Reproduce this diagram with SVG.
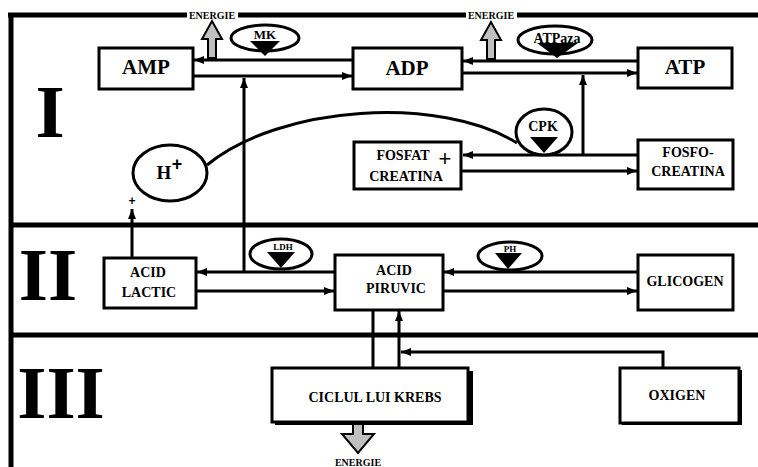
<svg xmlns="http://www.w3.org/2000/svg" width="758" height="467" viewBox="0 0 758 467">
<style>
.t{font-family:"Liberation Serif","Times New Roman",serif;font-weight:bold;fill:#000;text-anchor:middle}
.box{fill:#fff;stroke:#000;stroke-width:3}
.frame{stroke:#000;stroke-width:5;fill:none}
.ln{stroke:#000;stroke-width:3;fill:none}
.arr{stroke:#000;stroke-width:3;fill:none;marker-end:url(#ah)}
.enz{fill:#fff;stroke:#000;stroke-width:3}
.tri{fill:#000}
.gray{fill:#c0c0c0;stroke:#000;stroke-width:2}
</style>
<defs>
<marker id="ah" markerUnits="userSpaceOnUse" markerWidth="11" markerHeight="9" refX="10" refY="4" orient="auto">
<path d="M0,0 L10,4 L0,8 z" fill="#000"/>
</marker>
</defs>
<rect width="758" height="467" fill="#fff"/>
<g id="frame">
<line class="frame" x1="8" y1="15" x2="758" y2="15"/>
<line class="frame" x1="11" y1="13" x2="11" y2="467"/>
<line class="frame" x1="9" y1="225" x2="758" y2="225"/>
<line class="frame" x1="9" y1="335" x2="758" y2="335"/>
<text class="t" x="50" y="137" font-size="75">I</text>
<text class="t" x="48" y="300" font-size="75">II</text>
<text class="t" x="61" y="418" font-size="75">III</text>
</g>
<g id="connectors">
<line class="arr" x1="353" y1="60" x2="194" y2="60"/>
<line class="arr" x1="193" y1="76" x2="352" y2="76"/>
<line class="arr" x1="638" y1="61" x2="463" y2="61"/>
<line class="arr" x1="462" y1="73" x2="637" y2="73"/>
<line class="arr" x1="244" y1="272" x2="244" y2="78"/>
<line class="arr" x1="583" y1="155" x2="583" y2="75"/>
<line class="arr" x1="638" y1="155" x2="463" y2="155"/>
<line class="arr" x1="461" y1="171" x2="637" y2="171"/>
<path class="ln" d="M207,165 C280,105 440,95 517,143"/>
<line class="arr" x1="132" y1="258" x2="132" y2="209"/>
<line class="arr" x1="335" y1="272" x2="197" y2="272"/>
<line class="arr" x1="196" y1="291" x2="334" y2="291"/>
<line class="arr" x1="638" y1="272" x2="444" y2="272"/>
<line class="arr" x1="443" y1="291" x2="637" y2="291"/>
<line class="ln" x1="373" y1="310" x2="373" y2="368"/>
<line class="arr" x1="399" y1="368" x2="399" y2="311"/>
<polyline class="arr" points="663,368 663,352 401,352"/>
</g>
<g id="energie1">
<rect x="187" y="10" width="51" height="11" fill="#fff"/>
<text class="t" x="212" y="19" font-size="10">ENERGIE</text>
<path class="gray" d="M208,58 L208,39 L202,39 L212,21 L222,39 L216,39 L216,58 z"/>
</g>
<g id="energie2">
<rect x="466" y="10" width="51" height="11" fill="#fff"/>
<text class="t" x="491" y="19" font-size="10">ENERGIE</text>
<path class="gray" d="M487,59 L487,40 L481,40 L491,22 L501,40 L495,40 L495,59 z"/>
</g>
<g id="energie3">
<path class="gray" d="M353,424 L353,434 L342,434 L358,453 L374,434 L363,434 L363,424 z"/>
<text class="t" x="358" y="466" font-size="10">ENERGIE</text>
</g>
<g id="amp"><rect class="box" x="99" y="48" width="94" height="41"/><text class="t" x="146" y="74" font-size="21">AMP</text></g>
<g id="adp"><rect class="box" x="353" y="48" width="109" height="41"/><text class="t" x="407" y="75" font-size="21">ADP</text></g>
<g id="atp"><rect class="box" x="638" y="48" width="94" height="40"/><text class="t" x="685" y="74" font-size="21">ATP</text></g>
<g id="mk"><ellipse class="enz" cx="265" cy="38" rx="34" ry="13"/><text class="t" x="265" y="39" font-size="13">MK</text><polygon class="tri" points="250,41 280,41 265,56"/></g>
<g id="atpaza"><ellipse class="enz" cx="555" cy="40" rx="37" ry="14"/><text class="t" x="557" y="43" font-size="14">ATPaza</text><polygon class="tri" points="537,43 578,43 557,58"/></g>
<g id="hplus"><ellipse class="enz" cx="170" cy="173" rx="37" ry="28"/><text class="t" x="164" y="179" font-size="19">H</text><text x="177" y="170" font-size="18" font-family="Liberation Sans, Arial, sans-serif" font-weight="bold" text-anchor="middle">+</text><text x="132" y="205" font-size="12" font-family="Liberation Sans, Arial, sans-serif" font-weight="bold" text-anchor="middle">+</text></g>
<g id="cpk"><ellipse class="enz" cx="544" cy="132" rx="28" ry="23"/><text class="t" x="543" y="131" font-size="14">CPK</text><polygon class="tri" points="530,137 558,137 544,153"/></g>
<g id="fosfat"><rect class="box" x="354" y="142" width="107" height="47"/><text class="t" x="403" y="160" font-size="14">FOSFAT</text><text class="t" x="406" y="181" font-size="14">CREATINA</text><text x="445" y="166" font-size="22" font-family="Liberation Sans, Arial, sans-serif" text-anchor="middle">+</text></g>
<g id="fosfocreatina"><rect class="box" x="638" y="140" width="95" height="49"/><text class="t" x="688" y="157" font-size="14">FOSFO-</text><text class="t" x="688" y="176" font-size="14">CREATINA</text></g>
<g id="lactic"><rect class="box" x="104" y="258" width="92" height="50"/><text class="t" x="148" y="277" font-size="14">ACID</text><text class="t" x="149" y="297" font-size="14">LACTIC</text></g>
<g id="ldh"><ellipse class="enz" cx="281" cy="254" rx="31" ry="15"/><text class="t" x="283" y="250" font-size="9">LDH</text><polygon class="tri" points="267,252 295,252 281,268"/></g>
<g id="piruvic"><rect class="box" x="335" y="255" width="108" height="55"/><text class="t" x="394" y="275" font-size="14">ACID</text><text class="t" x="396" y="293" font-size="14">PIRUVIC</text></g>
<g id="ph"><ellipse class="enz" cx="510" cy="256" rx="32" ry="14"/><text class="t" x="510" y="252" font-size="9">PH</text><polygon class="tri" points="495,253 522,253 508,269"/></g>
<g id="glicogen"><rect class="box" x="638" y="255" width="95" height="55"/><text class="t" x="685" y="286" font-size="14">GLICOGEN</text></g>
<g id="krebs"><rect x="275" y="371" width="198" height="54" fill="#000"/><rect class="box" x="272" y="368" width="196" height="54" stroke-width="4"/><text class="t" x="375" y="402" font-size="14">CICLUL LUI KREBS</text></g>
<g id="oxigen"><rect x="622" y="370" width="120" height="55" fill="#000"/><rect class="box" x="620" y="368" width="119" height="55" stroke-width="3.5"/><text class="t" x="677" y="400" font-size="14">OXIGEN</text></g>
</svg>
